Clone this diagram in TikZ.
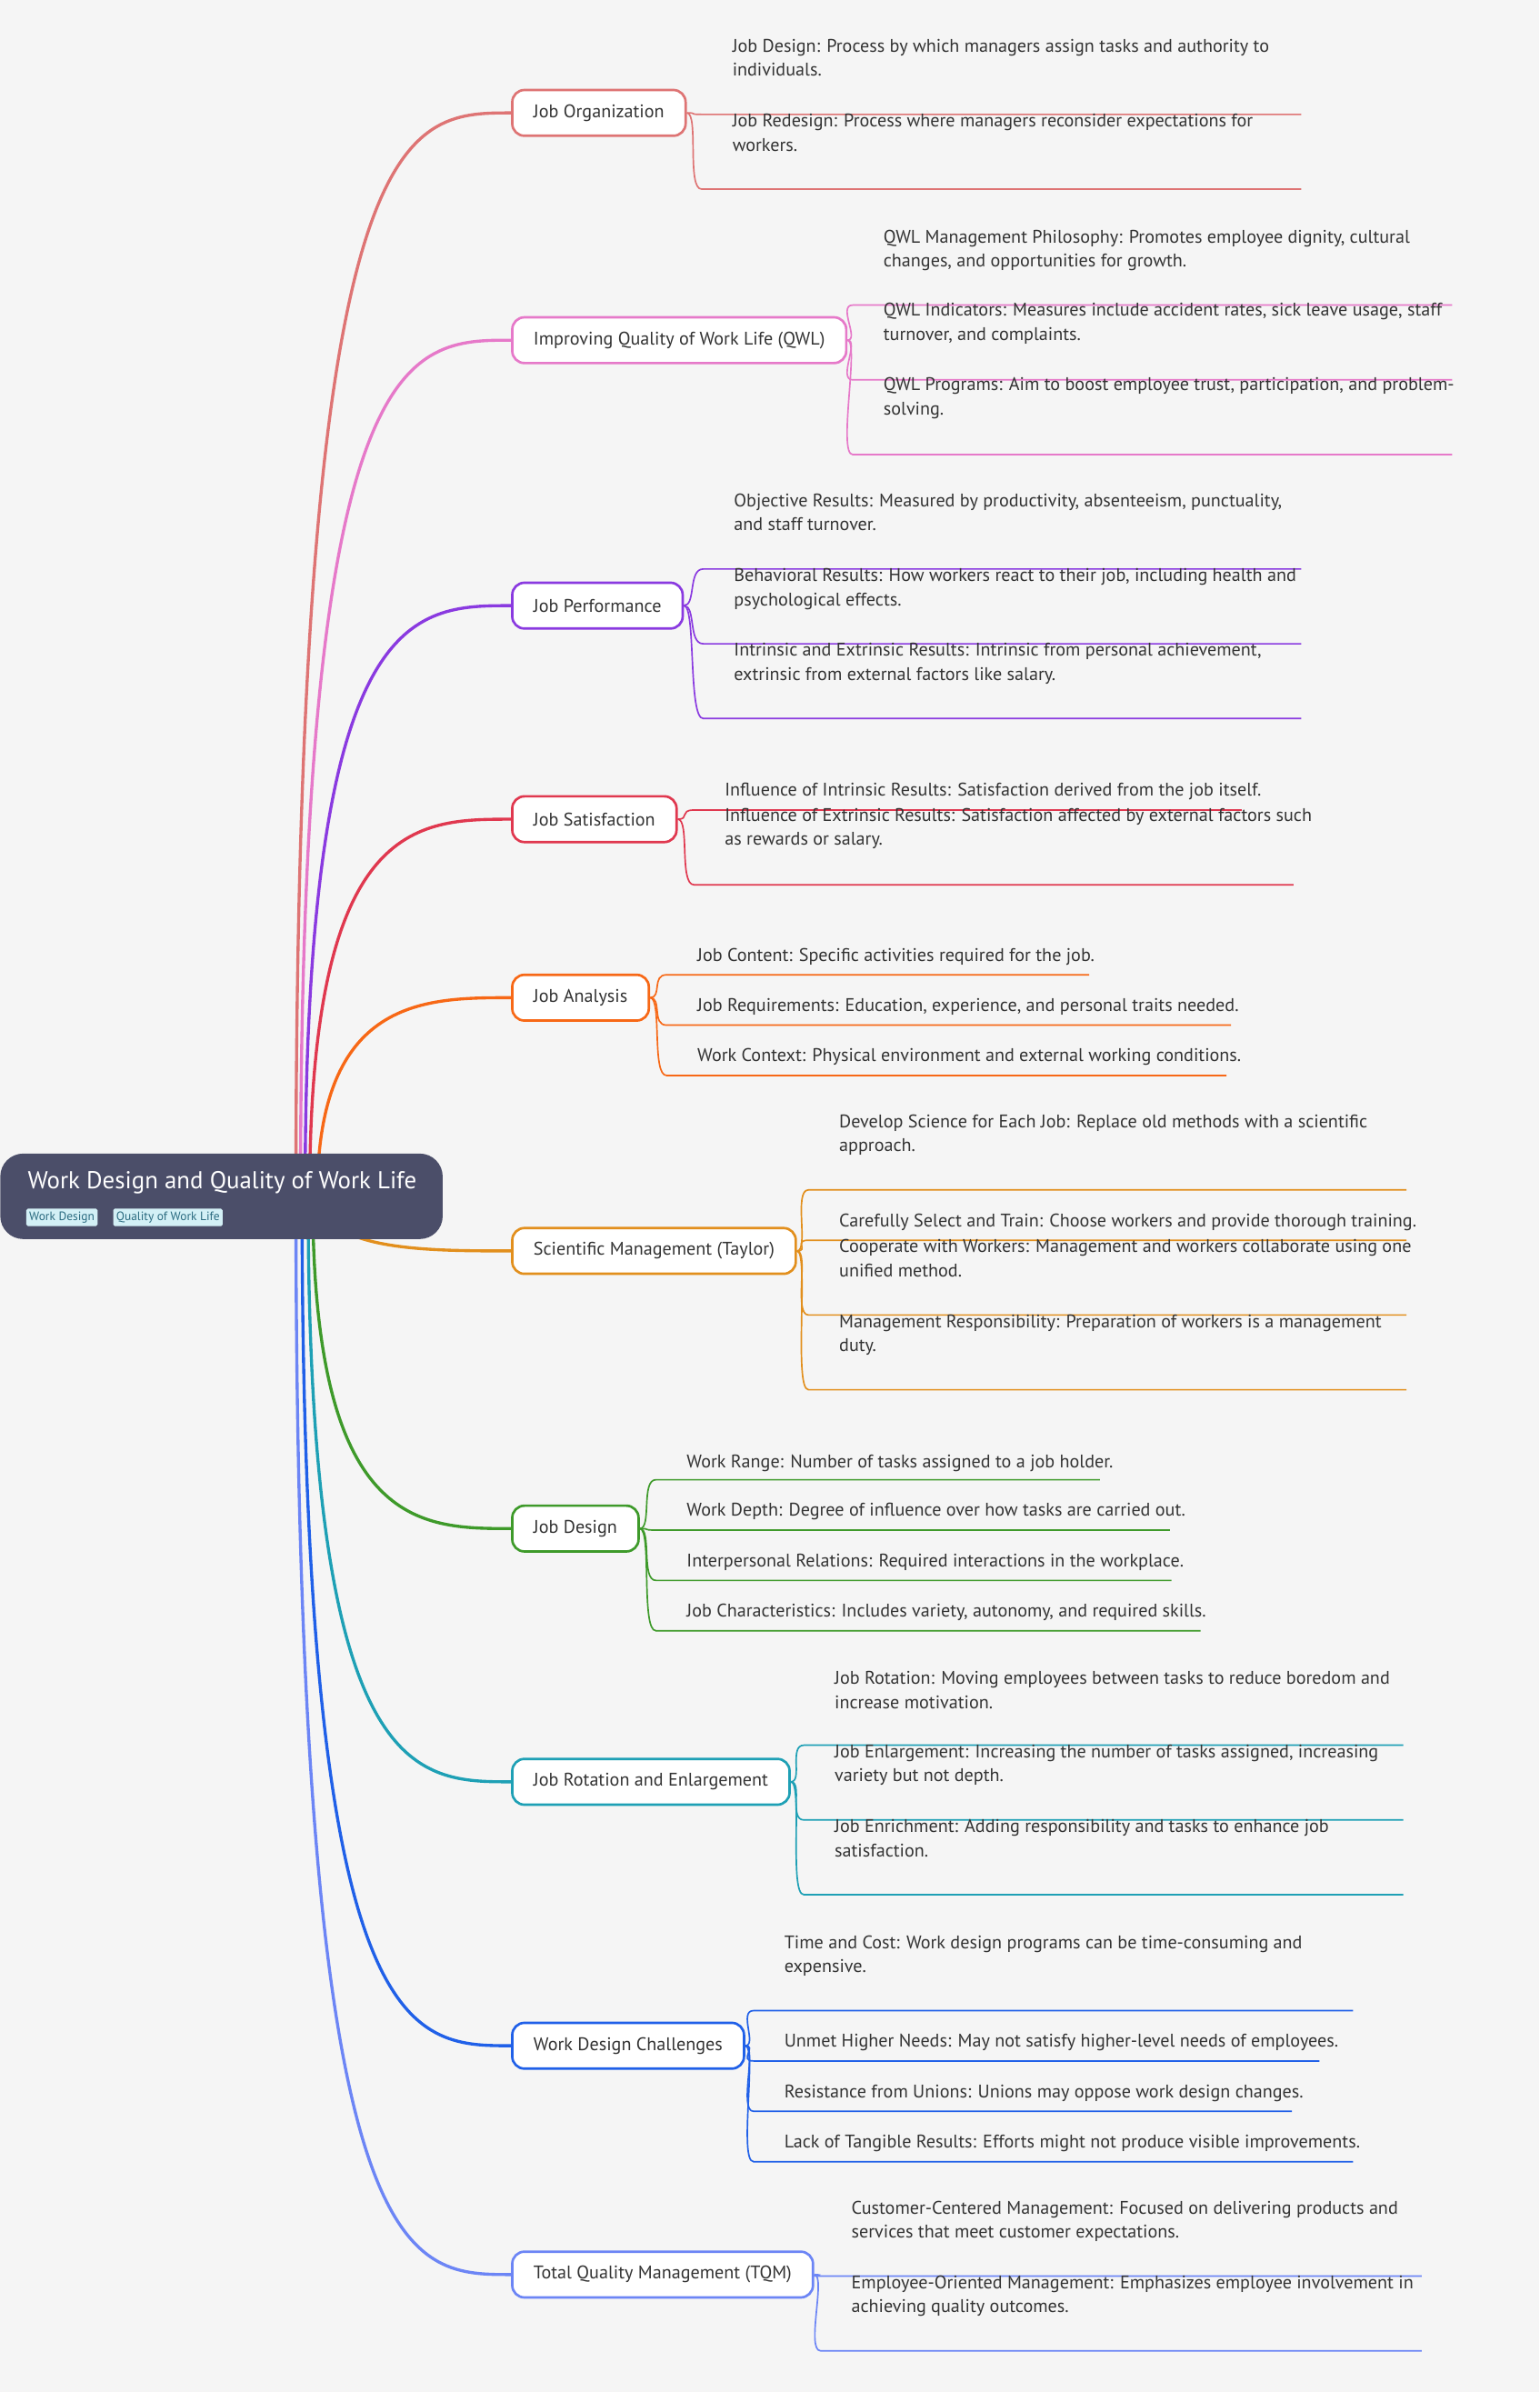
\documentclass[tikz,border=0pt]{standalone}
\usepackage{fontspec}
\setmainfont{PT Sans}
\usetikzlibrary{calc}
\definecolor{bg}{HTML}{F5F5F5}
\definecolor{txt}{HTML}{333333}
\definecolor{rootc}{HTML}{4B4E69}
\definecolor{tagf}{HTML}{D3F0F6}
\definecolor{tagt}{HTML}{2B6B80}
\definecolor{cA}{HTML}{DE7474}
\definecolor{cB}{HTML}{E679C9}
\definecolor{cC}{HTML}{8A3AE0}
\definecolor{cD}{HTML}{E0384F}
\definecolor{cE}{HTML}{F76816}
\definecolor{cF}{HTML}{E28F1D}
\definecolor{cG}{HTML}{3E9A2A}
\definecolor{cH}{HTML}{1EA0B5}
\definecolor{cI}{HTML}{2060E8}
\definecolor{cJ}{HTML}{6C85F5}
\tikzset{
  branchbox/.style={draw=#1, line width=1.6pt, fill=white, rounded corners=8pt, minimum height=30pt, inner xsep=14pt, anchor=west, font=\fontsize{12}{14}\selectfont, text=txt},
  leaftext/.style={anchor=base west, align=left, inner sep=0pt, font=\fontsize{12}{15.8}\selectfont, text=txt},
  rootlink/.style={draw=#1, line width=2pt},
  leaflink/.style={draw=#1, line width=1pt},
}
\newcommand{\myleaf}[8]{%
  \node[leaftext] (#1) at (#4,#5) {#8};
  \coordinate (#1s) at (#4-20,#6);
  \coordinate (#1e) at (#7,#6);
  \draw[leaflink=#2] (#3.east) .. controls ($(#3.east)+(8,0)$) and ($(#1s)+(-10,0)$) .. (#1s) -- (#1e);
}
\begin{document}
\begin{tikzpicture}[x=1pt,y=-1pt]
\fill[bg] (0,0) rectangle (1009,1568);
\useasboundingbox (0,0) rectangle (1009,1568);
% branches
\node[branchbox=cA] (b1) at (335,74) {Job Organization};
\node[branchbox=cB] (b2) at (335,223) {Improving Quality of Work Life (QWL)};
\node[branchbox=cC] (b3) at (335,397) {Job Performance};
\node[branchbox=cD] (b4) at (335,537) {Job Satisfaction};
\node[branchbox=cE] (b5) at (335,654) {Job Analysis};
\node[branchbox=cF] (b6) at (335,820) {Scientific Management (Taylor)};
\node[branchbox=cG] (b7) at (335,1002) {Job Design};
\node[branchbox=cH] (b8) at (335,1168) {Job Rotation and Enlargement};
\node[branchbox=cI] (b9) at (335,1341) {Work Design Challenges};
\node[branchbox=cJ] (b10) at (335,1491) {Total Quality Management (TQM)};
% root links
\foreach \b/\c/\xx in {b1/cA/194,b2/cB/197,b3/cC/200,b4/cD/203,b5/cE/208,b6/cF/210,b7/cG/205,b8/cH/202,b9/cI/198,b10/cJ/194}{
  \coordinate (v) at (\xx,0);
  \coordinate (va) at (\b.west -| v);
  \draw[rootlink=\c] (\xx,784) .. controls (va) and ($(va)+(70,0)$) .. (\b.west);
}
% root
\node[fill=rootc, rounded corners=15pt, minimum width=290pt, minimum height=56pt, anchor=north west, inner sep=0pt] (root) at (0,756) {};
\node[anchor=base west, text=white, font=\fontsize{16}{18}\selectfont, inner sep=0pt] (title) at (18,779) {Work Design and Quality of Work Life};
\node[anchor=west, fill=tagf, text=tagt, font=\fontsize{8}{9}\selectfont, inner xsep=2pt, inner ysep=2pt, rounded corners=1pt] (tag1) at (17,798) {Work Design};
\node[anchor=west, fill=tagf, text=tagt, font=\fontsize{8}{9}\selectfont, inner xsep=2pt, inner ysep=2pt, rounded corners=1pt] (tag2) at (74,798) {Quality of Work Life};
% leaves
\myleaf{l11}{cA}{b1}{480}{50}{75}{853}{Job Design: Process by which managers assign tasks and authority to\\individuals.}
\myleaf{l12}{cA}{b1}{480}{99}{124}{853}{Job Redesign: Process where managers reconsider expectations for\\workers.}
\myleaf{l21}{cB}{b2}{579}{175}{200}{952}{QWL Management Philosophy: Promotes employee dignity, cultural\\changes, and opportunities for growth.}
\myleaf{l22}{cB}{b2}{579}{223}{249}{952}{QWL Indicators: Measures include accident rates, sick leave usage, staff\\turnover, and complaints.}
\myleaf{l23}{cB}{b2}{579}{272}{298}{952}{QWL Programs: Aim to boost employee trust, participation, and problem-\\solving.}
\myleaf{l31}{cC}{b3}{481}{348}{373}{853}{Objective Results: Measured by productivity, absenteeism, punctuality,\\and staff turnover.}
\myleaf{l32}{cC}{b3}{481}{397}{422}{853}{Behavioral Results: How workers react to their job, including health and\\psychological effects.}
\myleaf{l33}{cC}{b3}{481}{446}{471}{853}{Intrinsic and Extrinsic Results: Intrinsic from personal achievement,\\extrinsic from external factors like salary.}
\myleaf{l41}{cD}{b4}{475}{522}{531}{814}{Influence of Intrinsic Results: Satisfaction derived from the job itself.}
\myleaf{l42}{cD}{b4}{475}{554}{580}{848}{Influence of Extrinsic Results: Satisfaction affected by external factors such\\as rewards or salary.}
\myleaf{l51}{cE}{b5}{457}{630}{639}{714}{Job Content: Specific activities required for the job.}
\myleaf{l52}{cE}{b5}{457}{663}{672}{807}{Job Requirements: Education, experience, and personal traits needed.}
\myleaf{l53}{cE}{b5}{457}{696}{705}{804}{Work Context: Physical environment and external working conditions.}
\myleaf{l61}{cF}{b6}{550}{755}{780}{922}{Develop Science for Each Job: Replace old methods with a scientific\\approach.}
\myleaf{l62}{cF}{b6}{550}{804}{813}{922}{Carefully Select and Train: Choose workers and provide thorough training.}
\myleaf{l63}{cF}{b6}{550}{837}{862}{922}{Cooperate with Workers: Management and workers collaborate using one\\unified method.}
\myleaf{l64}{cF}{b6}{550}{886}{911}{922}{Management Responsibility: Preparation of workers is a management\\duty.}
\myleaf{l71}{cG}{b7}{450}{962}{970}{721}{Work Range: Number of tasks assigned to a job holder.}
\myleaf{l72}{cG}{b7}{450}{994}{1003}{767}{Work Depth: Degree of influence over how tasks are carried out.}
\myleaf{l73}{cG}{b7}{450}{1027}{1036}{768}{Interpersonal Relations: Required interactions in the workplace.}
\myleaf{l74}{cG}{b7}{450}{1060}{1069}{787}{Job Characteristics: Includes variety, autonomy, and required skills.}
\myleaf{l81}{cH}{b8}{547}{1120}{1144}{920}{Job Rotation: Moving employees between tasks to reduce boredom and\\increase motivation.}
\myleaf{l82}{cH}{b8}{547}{1168}{1193}{920}{Job Enlargement: Increasing the number of tasks assigned, increasing\\variety but not depth.}
\myleaf{l83}{cH}{b8}{547}{1217}{1242}{920}{Job Enrichment: Adding responsibility and tasks to enhance job\\satisfaction.}
\myleaf{l91}{cI}{b9}{514}{1293}{1318}{887}{Time and Cost: Work design programs can be time-consuming and\\expensive.}
\myleaf{l92}{cI}{b9}{514}{1342}{1351}{865}{Unmet Higher Needs: May not satisfy higher-level needs of employees.}
\myleaf{l93}{cI}{b9}{514}{1375}{1384}{847}{Resistance from Unions: Unions may oppose work design changes.}
\myleaf{l94}{cI}{b9}{514}{1408}{1417}{887}{Lack of Tangible Results: Efforts might not produce visible improvements.}
\myleaf{l101}{cJ}{b10}{558}{1467}{1492}{932}{Customer-Centered Management: Focused on delivering products and\\services that meet customer expectations.}
\myleaf{l102}{cJ}{b10}{558}{1516}{1541}{932}{Employee-Oriented Management: Emphasizes employee involvement in\\achieving quality outcomes.}
\end{tikzpicture}
\end{document}
